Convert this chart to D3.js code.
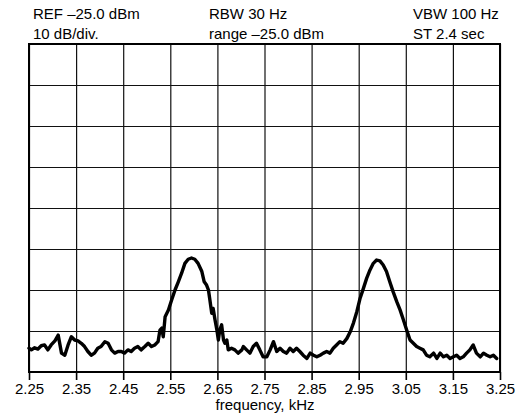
<!DOCTYPE html>
<html>
<head>
<meta charset="utf-8">
<script src="https://cdn.jsdelivr.net/npm/d3@7"></script>
<style>
  html, body { margin: 0; padding: 0; background: #fff; }
  svg { display: block; font-family: "Liberation Sans", Arial, Helvetica, sans-serif; }
</style>
</head>
<body>
<svg id="chart" width="526" height="414"></svg>
<script>
// Frequency (kHz) of trace samples
const freqKHz = [
  2.250, 2.255, 2.262, 2.269, 2.276, 2.283, 2.290, 2.297, 2.305, 2.312,
  2.319, 2.326, 2.333, 2.340, 2.347, 2.354, 2.361, 2.368, 2.375, 2.382,
  2.389, 2.396, 2.403, 2.411, 2.418, 2.425, 2.432, 2.439, 2.446, 2.453,
  2.460, 2.467, 2.474, 2.481, 2.488, 2.496, 2.503, 2.510, 2.517, 2.524,
  2.528, 2.532, 2.535, 2.537, 2.539, 2.546, 2.553, 2.560, 2.567, 2.574,
  2.581, 2.588, 2.595, 2.602, 2.609, 2.617, 2.622, 2.627, 2.631, 2.634,
  2.638, 2.641, 2.645, 2.649, 2.652, 2.655, 2.659, 2.663, 2.666, 2.670,
  2.673, 2.680, 2.687, 2.694, 2.702, 2.705, 2.712, 2.719, 2.726, 2.733,
  2.740, 2.747, 2.755, 2.762, 2.769, 2.776, 2.783, 2.790, 2.797, 2.804,
  2.811, 2.818, 2.825, 2.832, 2.840, 2.847, 2.854, 2.861, 2.868, 2.875,
  2.882, 2.889, 2.896, 2.903, 2.910, 2.917, 2.925, 2.932, 2.939, 2.946,
  2.953, 2.960, 2.967, 2.974, 2.981, 2.988, 2.995, 3.002, 3.009, 3.016,
  3.023, 3.031, 3.038, 3.045, 3.052, 3.059, 3.066, 3.073, 3.080, 3.087,
  3.094, 3.101, 3.109, 3.116, 3.123, 3.130, 3.137, 3.144, 3.151, 3.158,
  3.165, 3.172, 3.179, 3.186, 3.193, 3.200, 3.208, 3.215, 3.222, 3.229,
  3.236, 3.243
];
// Level (dBm) of trace samples
const levelDBm = [
  -99.2, -99.6, -99.1, -99.4, -98.6, -98.4, -99.6, -98.4, -97.4, -96.0,
  -100.4, -100.9, -98.4, -96.4, -97.2, -97.4, -98.0, -98.8, -100.0, -100.9,
  -100.4, -99.2, -98.8, -97.6, -98.0, -99.6, -100.4, -100.0, -100.0, -100.4,
  -99.6, -100.0, -99.2, -98.8, -99.6, -98.8, -98.0, -98.8, -98.4, -97.6,
  -94.8, -94.3, -96.4, -94.0, -91.5, -89.9, -87.4, -85.0, -83.0, -80.9,
  -78.5, -77.5, -77.2, -77.5, -78.5, -80.5, -83.0, -83.8, -85.0, -87.4,
  -90.7, -89.5, -92.3, -94.8, -97.2, -94.8, -93.5, -97.2, -98.0, -97.2,
  -99.6, -99.2, -99.6, -100.4, -99.6, -98.8, -99.6, -100.4, -98.8, -98.0,
  -99.6, -101.3, -101.3, -99.6, -97.6, -100.0, -99.2, -100.0, -100.4, -99.2,
  -100.0, -99.2, -100.0, -100.9, -101.7, -100.4, -100.9, -101.3, -100.9, -100.4,
  -100.0, -100.4, -99.2, -98.4, -97.6, -98.0, -96.8, -95.2, -93.0, -90.3,
  -87.0, -84.6, -82.1, -80.1, -78.5, -77.7, -77.9, -78.9, -80.5, -83.0,
  -85.4, -87.9, -89.9, -92.3, -94.8, -97.2, -98.0, -98.8, -99.2, -99.6,
  -100.9, -101.3, -100.4, -101.7, -100.4, -101.3, -100.9, -101.7, -101.3, -100.9,
  -101.7, -101.3, -100.4, -99.6, -98.4, -100.4, -101.3, -100.4, -100.9, -101.3,
  -100.9, -101.7
];
// Axis ticks
const freqTicks = [2.25, 2.35, 2.45, 2.55, 2.65, 2.75, 2.85, 2.95, 3.05, 3.15, 3.25];
const levelTicks = [-105, -95, -85, -75, -65, -55, -45, -35, -25];
// Header annotations
const headerLeft = ["REF \u201325.0 dBm", "10 dB/div."];
const headerMid = ["RBW 30 Hz", "range \u201325.0 dBm"];
const headerRight = ["VBW 100 Hz", "ST 2.4 sec"];
const xTitle = "frequency, kHz";

const svg = d3.select("#chart");
const plotL = 29, plotR = 500, plotT = 44, plotB = 372;
const x = d3.scaleLinear().domain([2.25, 3.25]).range([plotL, plotR]);
const y = d3.scaleLinear().domain([-105, -25]).range([plotB, plotT]);

// vertical grid
svg.append("g")
  .attr("transform", `translate(0,${plotB})`)
  .call(d3.axisBottom(x).tickValues(freqTicks).tickSize(-(plotB - plotT)).tickFormat(""))
  .call(g => g.select(".domain").remove())
  .call(g => g.selectAll("line").attr("stroke", "#111").attr("stroke-width", 1.2));

// horizontal grid
svg.append("g")
  .attr("transform", `translate(${plotL},0)`)
  .call(d3.axisLeft(y).tickValues(levelTicks).tickSize(-(plotR - plotL)).tickFormat(""))
  .call(g => g.select(".domain").remove())
  .call(g => g.selectAll("line").attr("stroke", "#111").attr("stroke-width", 1.2));

// frame
svg.append("rect")
  .attr("x", plotL).attr("y", plotT)
  .attr("width", plotR - plotL).attr("height", plotB - plotT)
  .attr("fill", "none").attr("stroke", "#000").attr("stroke-width", 2);

// bottom axis with ticks & labels
const xa = svg.append("g")
  .attr("transform", `translate(0,${plotB})`)
  .call(d3.axisBottom(x).tickValues(freqTicks).tickSize(8).tickPadding(3).tickFormat(d3.format(".2f")));
xa.select(".domain").remove();
xa.selectAll("line").attr("stroke", "#000").attr("stroke-width", 1.6);
xa.selectAll("text").attr("font-size", 15).attr("fill", "#000")
  .attr("font-family", "\"Liberation Sans\", Arial, sans-serif");

// trace
const pts = freqKHz.map((f, i) => [f, levelDBm[i]]);
svg.append("path")
  .datum(pts)
  .attr("fill", "none")
  .attr("stroke", "#000")
  .attr("stroke-width", 3.4)
  .attr("stroke-linejoin", "round")
  .attr("stroke-linecap", "round")
  .attr("d", d3.line().x(d => x(d[0])).y(d => y(d[1])));

// header text
function header(lines, xpos) {
  lines.forEach((t, i) => {
    svg.append("text")
      .attr("x", xpos).attr("y", 19 + i * 20)
      .attr("font-size", 15).attr("fill", "#000")
      .text(t);
  });
}
header(headerLeft, 33);
header(headerMid, 209);
header(headerRight, 413);

svg.append("text")
  .attr("x", 265).attr("y", 410)
  .attr("text-anchor", "middle")
  .attr("font-size", 15).attr("fill", "#000")
  .text(xTitle);
</script>
</body>
</html>
